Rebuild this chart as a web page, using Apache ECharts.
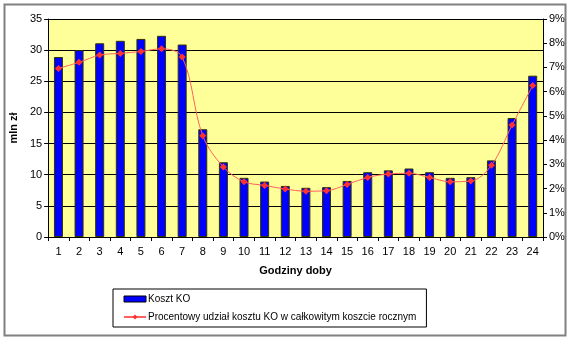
<!DOCTYPE html>
<html>
<head>
<meta charset="utf-8">
<script src="https://cdn.jsdelivr.net/npm/echarts@6/dist/echarts.min.js"></script>
<style>
html, body { margin: 0; padding: 0; background: #fff; }
#chart { width: 570px; height: 341px; }
</style>
</head>
<body>
<div id="chart"></div>
<script>
// Hours of the day
const hours = ['1','2','3','4','5','6','7','8','9','10','11','12','13','14','15','16','17','18','19','20','21','22','23','24'];
// Cost per hour, mln zł
const costKO = [28.9, 30.0, 31.1, 31.5, 31.8, 32.3, 30.9, 17.3, 12.0, 9.5, 8.9, 8.2, 7.9, 8.0, 9.0, 10.4, 10.7, 11.0, 10.4, 9.5, 9.6, 12.3, 19.1, 25.9];
// Share of the annual total cost, %
const sharePct = [6.96, 7.21, 7.51, 7.58, 7.66, 7.77, 7.43, 4.18, 2.89, 2.28, 2.13, 1.98, 1.89, 1.91, 2.17, 2.46, 2.60, 2.63, 2.46, 2.28, 2.31, 2.96, 4.62, 6.25];

const FONT = '"Liberation Sans", Arial, sans-serif';
const chart = echarts.init(document.getElementById('chart'), null, { renderer: 'canvas' });

chart.setOption({
  animation: false,
  backgroundColor: '#ffffff',
  textStyle: { fontFamily: FONT },
  graphic: [{
    type: 'rect',
    shape: { x: 4.5, y: 4.5, width: 561, height: 331 },
    style: { fill: 'none', stroke: '#808080', lineWidth: 2 },
    z: -1
  }],
  grid: {
    left: 42, right: 27, top: 19, bottom: 104,
    show: true, backgroundColor: '#ffff99', borderWidth: 0
  },
  legend: {
    orient: 'vertical',
    left: 113, top: 289,
    padding: [5, 10, 5, 10],
    itemGap: 8,
    itemWidth: 22, itemHeight: 6,
    backgroundColor: '#ffffff',
    borderColor: '#000000', borderWidth: 1,
    textStyle: { fontFamily: FONT, fontSize: 10, color: '#000', padding: [0, 0, 0, -3] },
    data: [
      { name: 'Koszt KO', icon: 'rect', itemStyle: { color: '#0000ff', borderColor: '#000', borderWidth: 1 } },
      { name: 'Procentowy udział kosztu KO w całkowitym koszcie rocznym' }
    ]
  },
  xAxis: {
    type: 'category',
    data: hours,
    name: 'Godziny doby',
    nameLocation: 'middle',
    nameGap: 28,
    nameTextStyle: { fontFamily: FONT, fontSize: 11, fontWeight: 'bold', color: '#000' },
    axisLine: { lineStyle: { color: '#000', width: 1 } },
    axisTick: { show: true, interval: 0, length: 4, lineStyle: { color: '#000' } },
    axisLabel: { interval: 0, margin: 9, fontFamily: FONT, fontSize: 11, color: '#000' },
    splitLine: { show: false }
  },
  yAxis: [{
    type: 'value',
    min: 0, max: 35, interval: 5,
    name: 'mln zł',
    nameLocation: 'middle',
    nameGap: 21,
    nameRotate: 90,
    nameTextStyle: { fontFamily: FONT, fontSize: 11, fontWeight: 'bold', color: '#000' },
    axisLine: { show: true, lineStyle: { color: '#000' } },
    axisTick: { show: true, length: 4, lineStyle: { color: '#000' } },
    axisLabel: { margin: 6, fontFamily: FONT, fontSize: 11, color: '#000' },
    splitLine: { show: true, lineStyle: { color: '#000', width: 1 } }
  }, {
    type: 'value',
    min: 0, max: 9, interval: 1,
    position: 'right',
    axisLine: { show: true, lineStyle: { color: '#000' } },
    axisTick: { show: true, length: 4, lineStyle: { color: '#000' } },
    axisLabel: { margin: 6, formatter: '{value}%', fontFamily: FONT, fontSize: 11, color: '#000' },
    splitLine: { show: false }
  }],
  series: [{
    name: 'Koszt KO',
    type: 'bar',
    data: costKO,
    barWidth: 9,
    itemStyle: { color: '#0000ff', borderColor: '#333300', borderWidth: 1 }
  }, {
    name: 'Procentowy udział kosztu KO w całkowitym koszcie rocznym',
    type: 'line',
    yAxisIndex: 1,
    data: sharePct,
    smooth: 0.35,
    symbol: 'diamond',
    symbolSize: 7,
    lineStyle: { color: '#ff6060', width: 1 },
    itemStyle: { color: '#ff3030', borderWidth: 0 }
  }]
});
</script>
</body>
</html>
